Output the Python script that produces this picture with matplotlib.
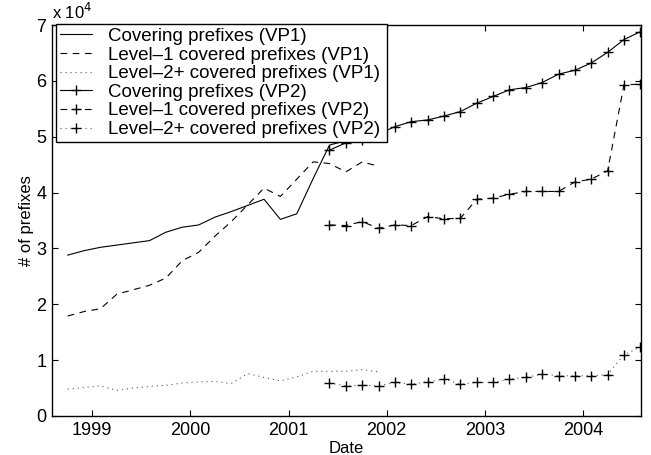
import numpy as np
import matplotlib
matplotlib.use("Agg")
from matplotlib import pyplot as plt
from matplotlib.ticker import FuncFormatter

# bimonthly snapshots, (year, month)
vp1_dates = [(1998, 10), (1998, 12), (1999, 2), (1999, 4), (1999, 6), (1999, 8),
             (1999, 10), (1999, 12), (2000, 2), (2000, 4), (2000, 6), (2000, 8),
             (2000, 10), (2000, 12), (2001, 2), (2001, 4), (2001, 6), (2001, 8),
             (2001, 10), (2001, 12)]
vp2_dates = [(2001, 6), (2001, 8), (2001, 10), (2001, 12), (2002, 2), (2002, 4),
             (2002, 6), (2002, 8), (2002, 10), (2002, 12), (2003, 2), (2003, 4),
             (2003, 6), (2003, 8), (2003, 10), (2003, 12), (2004, 2), (2004, 4),
             (2004, 6), (2004, 8)]

vp1_covering = [28800, 29600, 30200, 30600, 31000, 31400, 32900, 33800, 34200, 35600,
                36600, 37700, 38800, 35200, 36200, 42500, 48500, 49300, 49500, 50000]
vp1_level1 = [17900, 18700, 19200, 21800, 22600, 23400, 24700, 27800, 29300, 32200,
              34800, 37800, 40800, 39300, 42400, 45500, 45200, 43700, 45500, 44700]
vp1_level2 = [4800, 5100, 5400, 4600, 5000, 5300, 5500, 5900, 6100, 6200,
              5800, 7600, 6900, 6300, 7000, 8000, 8000, 8000, 8300, 7900]

vp2_covering = [47600, 48900, 49400, 50500, 51800, 52700, 53000, 53700, 54500, 56000,
                57200, 58400, 58800, 59700, 61200, 61900, 63200, 65100, 67400, 68800]
vp2_level1 = [34200, 34100, 34800, 33600, 34200, 34100, 35700, 35300, 35400, 38800,
              39000, 39700, 40200, 40200, 40200, 41900, 42400, 43900, 59300, 59400]
vp2_level2 = [5900, 5400, 5500, 5400, 6000, 5700, 6100, 6600, 5700, 6000,
              6000, 6600, 6900, 7500, 7200, 7200, 7200, 7400, 11000, 12300]

year_ticks = [1999, 2000, 2001, 2002, 2003, 2004]


def to_year(dates):
    return [y + (m - 1) / 12.0 for y, m in dates]


plt.rcParams['font.family'] = ['Liberation Sans', 'DejaVu Sans']
plt.rcParams['font.size'] = 13

x1 = to_year(vp1_dates)
x2 = to_year(vp2_dates)

fig = plt.figure(figsize=(6.51, 4.55), dpi=100)
ax = fig.add_axes([52 / 651, 39 / 455, 589 / 651, 391 / 455])

lw = 0.8
ax.plot(x1, vp1_covering, 'k-', lw=lw, label='Covering prefixes (VP1)')
ax.plot(x1, vp1_level1, 'k', lw=lw, dashes=(6, 5), label='Level\u20131 covered prefixes (VP1)')
ax.plot(x1, vp1_level2, color='0.35', lw=lw, dashes=(1, 3.5), label='Level\u20132+ covered prefixes (VP1)')
ax.plot(x2, vp2_covering, 'k-', lw=lw, marker='+', ms=7, mew=1.0, label='Covering prefixes (VP2)')
ax.plot(x2, vp2_level1, 'k', lw=lw, dashes=(6, 5), marker='+', ms=7, mew=1.0,
        label='Level\u20131 covered prefixes (VP2)')
ax.plot(x2, vp2_level2, color='0.35', lw=lw, dashes=(1, 3.5), marker='+', ms=7, mew=1.0,
        mec='k', label='Level\u20132+ covered prefixes (VP2)')

ax.set_xlim(1998.59, 2004.59)
ax.set_ylim(0, 70000)
ax.set_xticks(year_ticks)
ax.set_xticklabels([str(y) for y in year_ticks])
ax.set_yticks(np.arange(0, 70001, 10000))
ax.yaxis.set_major_formatter(FuncFormatter(lambda v, p: '%d' % round(v / 1e4)))
ax.tick_params(direction='in', top=True, right=True, length=4.5, width=0.8, pad=4)
for s in ax.spines.values():
    s.set_linewidth(1.0)

ax.text(0.0, 1.008, 'x 10$^{4}$', transform=ax.transAxes, ha='left', va='bottom', fontsize=12)
ax.set_xlabel('Date', fontsize=12, labelpad=2)
ax.set_ylabel('# of prefixes', fontsize=12, labelpad=2)

leg = ax.legend(loc='upper left', bbox_to_anchor=(4 / 589, 1 - 3 / 391, 331 / 589, 0.01),
                mode='expand', fontsize=13.5, frameon=True, fancybox=False, framealpha=1,
                edgecolor='k', borderaxespad=0, labelspacing=0.08, handlelength=1.7,
                handletextpad=0.85, borderpad=0.2)
leg.get_frame().set_linewidth(1.0)

fig.savefig('out.png', dpi=100)
